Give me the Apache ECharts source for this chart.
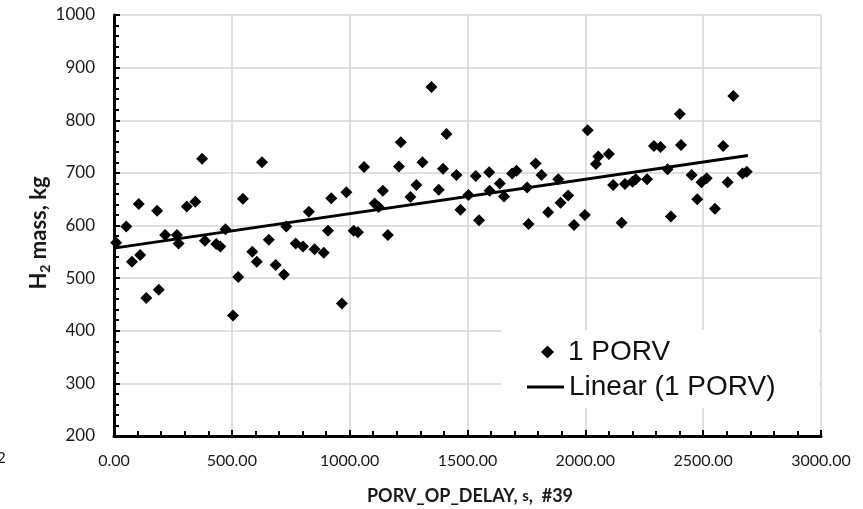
<!DOCTYPE html>
<html>
<head>
<meta charset="utf-8">
<script src="https://cdn.jsdelivr.net/npm/echarts@6/dist/echarts.min.js"></script>
<style>
html,body{margin:0;padding:0;background:#fff;}
#c{width:863px;height:509px;}
</style>
</head>
<body>
<div id="c"></div>
<script>
// ---- data ----
var delayS = [9,52,76,105,111,137,183,190,217,267,274,309,345,374,386,434,451,473,505,527,
  547,587,606,628,657,686,721,731,771,802,827,851,890,908,922,967,986,1017,1035,1061,
  1106,1123,1141,1162,1209,1217,1258,1283,1309,1347,1378,1396,1411,1453,1470,1504,1535,1549,1592,1594,
  1637,1655,1689,1708,1753,1759,1789,1814,1842,1885,1895,1927,1952,1998,2010,2045,2055,2100,2118,2154,
  2168,2200,2214,2262,2291,2319,2349,2363,2401,2406,2451,2475,2493,2515,2550,2585,2604,2628,2667,2685];
var h2MassKg = [567,598,531,641,544,462,628,478,582,582,566,636,645,727,571,565,560,593,429,502,
  651,550,531,720,573,525,507,598,566,560,626,555,548,590,652,452,663,590,587,711,
  642,635,666,582,712,758,654,677,720,863,668,708,774,696,630,658,694,610,701,666,
  680,655,699,704,672,603,718,696,625,688,643,657,601,620,781,717,731,736,677,605,
  679,683,688,688,751,749,707,617,812,753,696,650,682,690,632,751,682,846,699,702];
var trendX = [0, 2690];
var trendY = [557, 733];
var xTicks = [0, 500, 1000, 1500, 2000, 2500, 3000];
var yTicks = [200, 300, 400, 500, 600, 700, 800, 900, 1000];
var seriesName = '1 PORV';
var trendName = 'Linear (1 PORV)';

var pts = delayS.map(function (x, i) { return [x, h2MassKg[i]]; });
var trendPts = trendX.map(function (x, i) { return [x, trendY[i]]; });

var tickFont = 'Lato, "Open Sans", sans-serif';
var legendFont = '"Liberation Sans", Arial, sans-serif';
var chart = echarts.init(document.getElementById('c'), null, {renderer: 'canvas'});
chart.setOption({
  animation: false,
  backgroundColor: '#ffffff',
  grid: {left: 114, right: 42, top: 15, bottom: 73, containLabel: false},
  xAxis: {
    type: 'value',
    min: xTicks[0], max: xTicks[xTicks.length - 1], interval: xTicks[1] - xTicks[0],
    axisLine: {show: true, onZero: false, lineStyle: {color: '#000', width: 3}},
    axisTick: {show: true, inside: true, length: 6, lineStyle: {color: '#000', width: 2}},
    minorTick: {show: true, splitNumber: 5, length: 5, lineStyle: {color: '#000', width: 2}},
    splitLine: {show: true, lineStyle: {color: '#d4d4d4', width: 1.5}},
    axisLabel: {margin: 17, color: '#1a1a1a', fontSize: 16, fontFamily: tickFont,
      formatter: function (v) { return v.toFixed(2); }}
  },
  yAxis: {
    type: 'value',
    min: yTicks[0], max: yTicks[yTicks.length - 1], interval: yTicks[1] - yTicks[0],
    axisLine: {show: true, onZero: false, lineStyle: {color: '#000', width: 3}},
    axisTick: {show: true, inside: true, length: 6, lineStyle: {color: '#000', width: 2}},
    minorTick: {show: true, splitNumber: 5, length: 5, lineStyle: {color: '#000', width: 2}},
    splitLine: {show: true, lineStyle: {color: '#d4d4d4', width: 1.5}},
    axisLabel: {margin: 19, color: '#1a1a1a', fontSize: 17, fontFamily: tickFont,
      formatter: function (v) { return String(v); }}
  },
  legend: [
    {
      left: 541, top: 337, padding: 0,
      itemWidth: 13, itemHeight: 13, itemGap: 0,
      textStyle: {fontSize: 28, lineHeight: 30, color: '#111', fontFamily: legendFont, padding: [0, 0, 0, 9]},
      data: [{name: seriesName, icon: 'diamond', itemStyle: {color: '#000'}}]
    },
    {
      left: 527, top: 372, padding: 0,
      itemWidth: 37, itemHeight: 3, itemGap: 0,
      textStyle: {fontSize: 28, lineHeight: 30, color: '#111', fontFamily: legendFont},
      data: [{name: trendName, icon: 'rect', itemStyle: {color: '#000'}}]
    }
  ],
  series: [
    {
      name: seriesName, type: 'scatter', data: pts,
      symbol: 'diamond', symbolSize: 12,
      itemStyle: {color: '#000', opacity: 1}, z: 3
    },
    {
      name: trendName, type: 'line', data: trendPts,
      symbol: 'none', showSymbol: false,
      lineStyle: {color: '#000', width: 3}, itemStyle: {color: '#000'}, z: 4
    }
  ],
  graphic: [
    {
      type: 'rect', z: 1, silent: true,
      shape: {x: 501, y: 330, width: 318, height: 78},
      style: {fill: '#ffffff'}
    },
    {
      type: 'text', x: 39, y: 233, rotation: Math.PI / 2,
      style: {
        text: '{a|H}{s|2}{a| mass, kg}',
        align: 'center', verticalAlign: 'middle',
        rich: {
          a: {fontSize: 22, fontWeight: 'bold', fontFamily: tickFont, fill: '#1a1a1a', lineHeight: 26},
          s: {fontSize: 14, fontWeight: 'bold', fontFamily: tickFont, fill: '#1a1a1a', lineHeight: 12, verticalAlign: 'bottom'}
        }
      }
    },
    {
      type: 'text', x: 470, y: 496,
      style: {
        text: '{a|PORV_OP_DELAY, }{s|s}{a|,  #39}',
        align: 'center', verticalAlign: 'middle',
        rich: {
          a: {fontSize: 18, fontWeight: 'bold', fontFamily: tickFont, fill: '#1a1a1a', lineHeight: 24},
          s: {fontSize: 15, fontWeight: 'bold', fontFamily: tickFont, fill: '#1a1a1a', lineHeight: 24}
        }
      }
    },
    {
      type: 'text', x: -3, y: 458,
      style: {text: '2', align: 'left', verticalAlign: 'middle', fontSize: 15, fontFamily: tickFont, fill: '#1a1a1a'}
    }
  ]
});
</script>
</body>
</html>
